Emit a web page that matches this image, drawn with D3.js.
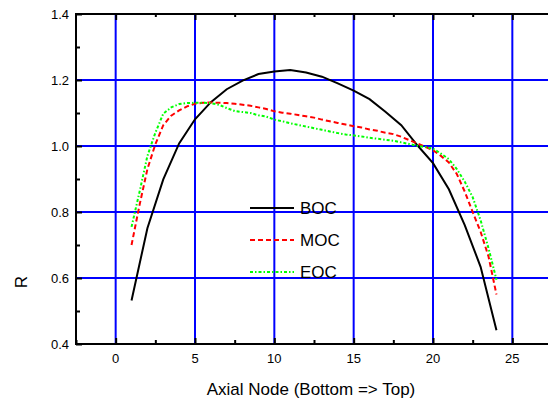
<!DOCTYPE html>
<html>
<head>
<meta charset="utf-8">
<script src="https://cdn.jsdelivr.net/npm/d3@7/dist/d3.min.js"></script>
<style>
    body { margin: 0; background: #fff; }
    text { font-family: "Liberation Sans", Arial, sans-serif; fill: #000; }
</style>
</head>
<body>
<div id="chart"></div>
<script>
// Data
var bocNodes = [1, 2, 3, 4, 5, 6, 7, 8, 9, 10, 11, 12, 13, 14, 15, 16, 17, 18, 19, 20, 21, 22, 23, 24];
var bocValues = [0.532, 0.751, 0.899, 1.008, 1.081, 1.133, 1.172, 1.198, 1.218, 1.226, 1.23, 1.223,
    1.21, 1.19, 1.168, 1.142, 1.104, 1.063, 1.003, 0.948, 0.869, 0.76, 0.634, 0.442];

var halfNodes = [1, 1.5, 2, 2.5, 3, 3.5, 4, 4.5, 5, 5.5, 6, 6.5, 7, 7.5, 8, 8.5, 9, 9.5, 10, 10.5,
    11, 11.5, 12, 12.5, 13, 13.5, 14, 14.5, 15, 15.5, 16, 16.5, 17, 17.5, 18, 18.5, 19, 19.5,
    20, 20.5, 21, 21.5, 22, 22.5, 23, 23.5, 24];
var mocValues = [0.70, 0.82, 0.93, 1.005, 1.063, 1.092, 1.108, 1.12, 1.128, 1.131, 1.132, 1.131,
    1.13, 1.128, 1.125, 1.122, 1.117, 1.112, 1.105, 1.101, 1.098, 1.094, 1.09, 1.086, 1.08, 1.075,
    1.07, 1.065, 1.06, 1.056, 1.05, 1.046, 1.04, 1.036, 1.028, 1.018, 1.008, 0.998, 0.987, 0.97,
    0.95, 0.915, 0.862, 0.8, 0.74, 0.665, 0.55];
var eocValues = [0.755, 0.86, 0.97, 1.04, 1.098, 1.117, 1.127, 1.13, 1.131, 1.131, 1.13, 1.125,
    1.115, 1.106, 1.103, 1.1, 1.093, 1.089, 1.08, 1.075, 1.069, 1.064, 1.059, 1.054, 1.049, 1.044,
    1.039, 1.035, 1.032, 1.029, 1.025, 1.022, 1.019, 1.016, 1.011, 1.006, 1.001, 0.997, 0.992,
    0.977, 0.96, 0.93, 0.892, 0.845, 0.775, 0.69, 0.595];

var seriesNames = ["BOC", "MOC", "EOC"];
var xTicks = [0, 5, 10, 15, 20, 25];
var yTicks = [0.4, 0.6, 0.8, 1.0, 1.2, 1.4];

var svgWidth = 548, svgHeight = 406;
var margin = {top: 14, left: 76, bottom: 62};
var plotRight = 552; // right frame falls just outside the picture

var svg = d3.select("#chart").append("svg")
    .attr("width", svgWidth)
    .attr("height", svgHeight);

var x = d3.scaleLinear().domain([-2.5, 27.5]).range([margin.left, plotRight]);
var y = d3.scaleLinear().domain([0.4, 1.4]).range([svgHeight - margin.bottom, margin.top]);

var series = [
    {name: seriesNames[0], xs: bocNodes, ys: bocValues, color: "#000", dash: null},
    {name: seriesNames[1], xs: halfNodes, ys: mocValues, color: "#ff0000", dash: "5,3"},
    {name: seriesNames[2], xs: halfNodes, ys: eocValues, color: "#00ff00", dash: "3,2,1.5,2"}
];

// grid lines
svg.append("g").selectAll("line.vgrid")
    .data(xTicks)
    .enter().append("line")
    .attr("x1", function(d) { return x(d); })
    .attr("x2", function(d) { return x(d); })
    .attr("y1", y(0.4))
    .attr("y2", y(1.4))
    .attr("stroke", "#0000ff")
    .attr("stroke-width", 2);

svg.append("g").selectAll("line.hgrid")
    .data(yTicks.slice(1, -1))
    .enter().append("line")
    .attr("x1", x(-2.5))
    .attr("x2", plotRight)
    .attr("y1", function(d) { return y(d); })
    .attr("y2", function(d) { return y(d); })
    .attr("stroke", "#0000ff")
    .attr("stroke-width", 2);

// axes, ticks drawn inside
var bottomAxis = d3.axisTop(x).tickValues(xTicks).tickSize(6).tickFormat("");
var bottomMinor = d3.axisTop(x).tickValues([-2.5, 2.5, 7.5, 12.5, 17.5, 22.5]).tickSize(4).tickFormat("");
var topAxis = d3.axisBottom(x).tickValues(xTicks).tickSize(6).tickFormat("");
var topMinor = d3.axisBottom(x).tickValues([2.5, 7.5, 12.5, 17.5, 22.5]).tickSize(3).tickFormat("");
var leftAxis = d3.axisRight(y).tickValues(yTicks).tickSize(6).tickFormat("");
var leftMinor = d3.axisRight(y).tickValues([0.5, 0.7, 0.9, 1.1, 1.3]).tickSize(4).tickFormat("");

function drawAxis(ax, tx, ty) {
    var g = svg.append("g")
        .attr("transform", "translate(" + tx + "," + ty + ")")
        .call(ax);
    g.select(".domain").remove();
    g.selectAll("line").attr("stroke", "#000").attr("stroke-width", 2);
}
drawAxis(bottomAxis, 0, y(0.4));
drawAxis(bottomMinor, 0, y(0.4));
drawAxis(topAxis, 0, y(1.4));
drawAxis(topMinor, 0, y(1.4));
drawAxis(leftAxis, x(-2.5), 0);
drawAxis(leftMinor, x(-2.5), 0);

// frame
svg.append("path")
    .attr("d", "M" + plotRight + "," + y(1.4) + "H" + x(-2.5) + "V" + y(0.4) + "H" + plotRight)
    .attr("fill", "none")
    .attr("stroke", "#000")
    .attr("stroke-width", 2);

// tick labels
svg.append("g").selectAll("text")
    .data(xTicks)
    .enter().append("text")
    .attr("x", function(d) { return x(d); })
    .attr("y", 363)
    .attr("text-anchor", "middle")
    .style("font-size", "13px")
    .text(function(d) { return d; });

svg.append("g").selectAll("text")
    .data(yTicks)
    .enter().append("text")
    .attr("x", 69)
    .attr("y", function(d) { return y(d); })
    .attr("dy", "0.35em")
    .attr("text-anchor", "end")
    .style("font-size", "13px")
    .text(function(d) { return d3.format(".1f")(d); });

// axis titles
svg.append("text")
    .attr("x", 311)
    .attr("y", 395)
    .attr("text-anchor", "middle")
    .style("font-size", "17px")
    .text("Axial Node (Bottom => Top)");

svg.append("text")
    .attr("transform", "translate(27,282) rotate(-90)")
    .attr("text-anchor", "middle")
    .style("font-size", "17px")
    .text("R");

// curves
var line = d3.line()
    .x(function(d) { return x(d[0]); })
    .y(function(d) { return y(d[1]); });

series.forEach(function(s) {
    svg.append("path")
        .datum(d3.zip(s.xs, s.ys))
        .attr("d", line)
        .attr("fill", "none")
        .attr("stroke", s.color)
        .attr("stroke-width", 2)
        .attr("stroke-dasharray", s.dash);
});

// legend
var legend = svg.append("g").selectAll("g")
    .data(series)
    .enter().append("g")
    .attr("transform", function(d, i) { return "translate(250," + (208 + i * 32) + ")"; });

legend.append("line")
    .attr("x1", 0)
    .attr("x2", 44)
    .attr("stroke", function(d) { return d.color; })
    .attr("stroke-width", 2)
    .attr("stroke-dasharray", function(d) { return d.dash; });

legend.append("text")
    .attr("x", 50)
    .attr("y", 6)
    .style("font-size", "17px")
    .text(function(d) { return d.name; });
</script>
</body>
</html>
